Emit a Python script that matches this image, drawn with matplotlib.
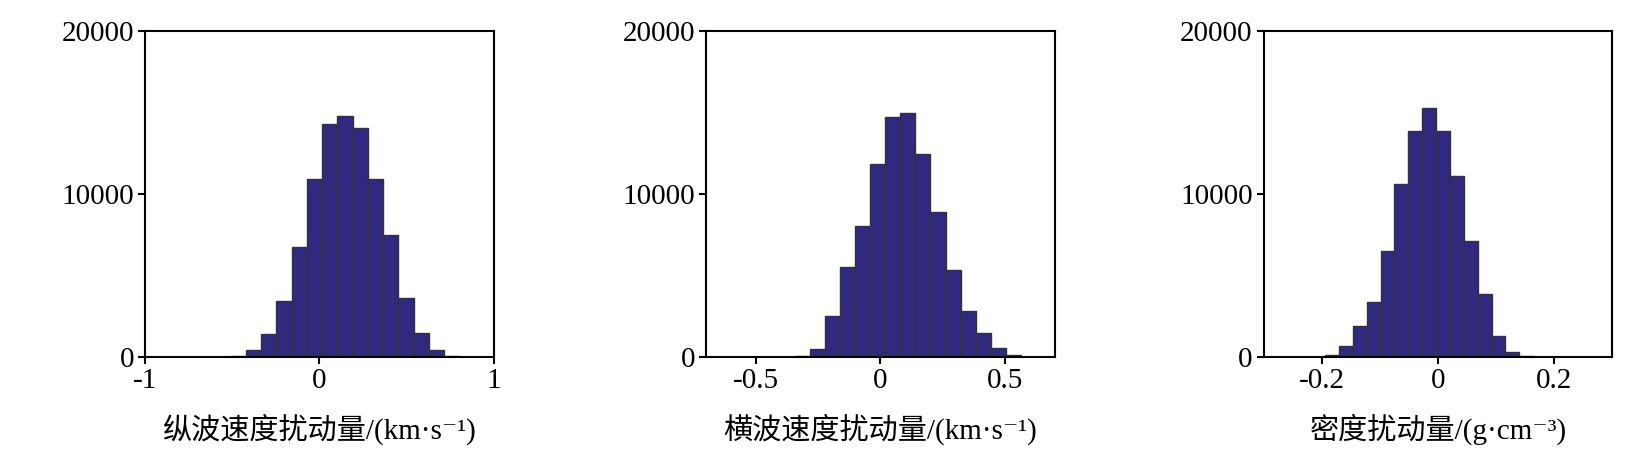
import matplotlib
matplotlib.use("Agg")
import matplotlib.pyplot as plt
import numpy as np

# Histogram data (bin edges and counts)
vp_edges = [-0.509, -0.422, -0.334, -0.247, -0.159, -0.072, 0.016, 0.103,
            0.191, 0.278, 0.366, 0.453, 0.541, 0.628, 0.716, 0.803]
vp_counts = [40, 410, 1390, 3420, 6760, 10930, 14270, 14800,
             14040, 10930, 7470, 3600, 1470, 450, 80]

vs_edges = [-0.341, -0.281, -0.221, -0.161, -0.101, -0.041, 0.020, 0.080,
            0.141, 0.201, 0.262, 0.322, 0.383, 0.443, 0.504, 0.564]
vs_counts = [40, 490, 2520, 5550, 8050, 11870, 14740, 14940,
             12450, 8880, 5340, 2850, 1470, 570, 120]

rho_edges = [-0.194, -0.170, -0.146, -0.122, -0.098, -0.075, -0.051, -0.027,
             -0.003, 0.021, 0.045, 0.069, 0.093, 0.116, 0.140, 0.164]
rho_counts = [120, 680, 1920, 3360, 6530, 10620, 13860, 15250,
              13860, 11100, 7120, 3850, 1270, 290, 60]

xlims = [(-1, 1), (-0.7, 0.7), (-0.3, 0.3)]
xticks = [[-1, 0, 1], [-0.5, 0, 0.5], [-0.2, 0, 0.2]]
xticklabels = [["-1", "0", "1"], ["-0.5", "0", "0.5"], ["-0.2", "0", "0.2"]]
yticks = [0, 10000, 20000]
xlabels = ["纵波速度扰动量/(km·s⁻¹)", "横波速度扰动量/(km·s⁻¹)", "密度扰动量/(g·cm⁻³)"]

plt.rcParams['font.family'] = ['Liberation Serif', 'Noto Sans CJK SC', 'DejaVu Serif']
plt.rcParams['axes.unicode_minus'] = False

fig = plt.figure(figsize=(16.35, 4.72), dpi=100)
lefts = [0.0887, 0.4318, 0.7729]
axes = [fig.add_axes([l, 0.2436, 0.2133, 0.6907]) for l in lefts]

data = [(vp_edges, vp_counts), (vs_edges, vs_counts), (rho_edges, rho_counts)]
for i, ax in enumerate(axes):
    edges, counts = data[i]
    ax.bar(edges[:-1], counts, width=np.diff(edges), align='edge',
           color='#2f2a80', edgecolor='#333333', linewidth=1.0)
    ax.set_xlim(*xlims[i])
    ax.set_ylim(0, 20000)
    ax.set_xticks(xticks[i])
    ax.set_xticklabels(xticklabels[i])
    ax.set_yticks(yticks)
    ax.set_yticklabels([str(v) for v in yticks])
    ax.tick_params(axis='both', direction='out', length=5, width=1.5,
                   labelsize=21, pad=3)
    for s in ax.spines.values():
        s.set_linewidth(1.5)
    ax.set_xlabel(xlabels[i], fontsize=21, labelpad=14)

fig.savefig("out.png", dpi=100)
